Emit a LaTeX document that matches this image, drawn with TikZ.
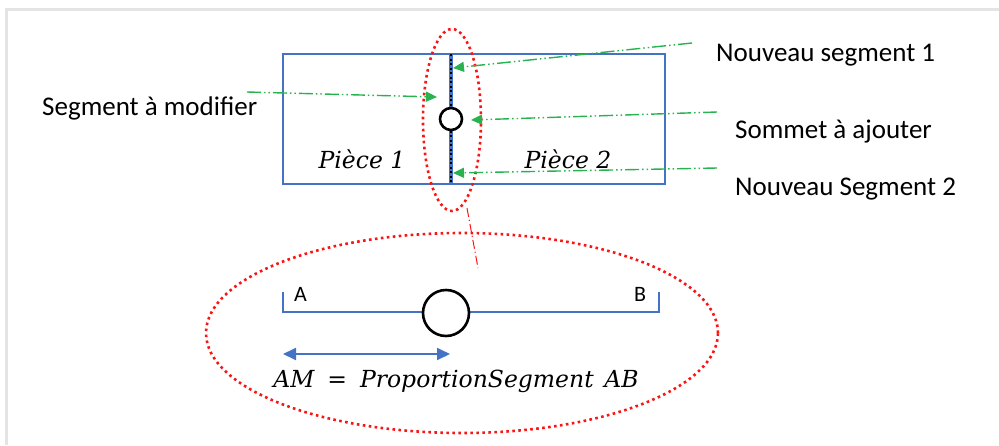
\documentclass[tikz,border=0pt]{standalone}
\usepackage{fontspec}
\setmainfont{Carlito}
\newfontfamily\mathlike{DejaVu Serif}
\usetikzlibrary{arrows.meta}
\definecolor{pblue}{RGB}{68,114,196}
\definecolor{pgreen}{RGB}{40,178,80}
\definecolor{pred}{RGB}{250,20,20}
\definecolor{pframe}{RGB}{228,228,228}
\tikzset{
  lbl/.style={anchor=west,inner sep=0pt,font=\fontsize{27}{32}\selectfont},
  ptlbl/.style={inner sep=0pt,font=\fontsize{22}{26}\selectfont},
  mathlbl/.style={inner sep=0pt,font=\mathlike\itshape\fontsize{23.5}{28}\selectfont},
  garrow/.style={pgreen,line width=1.4pt,dash pattern=on 14pt off 3pt on 1.5pt off 3pt on 1.5pt off 3pt,-{Triangle[length=11pt,width=10pt]}},
  reddots/.style={pred,line width=2.6pt,dash pattern=on 2.6pt off 3.4pt},
  vertex/.style={circle,draw=black,fill=white,inner sep=0pt},
}
\begin{document}
\begin{tikzpicture}[x=1pt,y=-1pt]
\useasboundingbox (0,0) rectangle (999,445);
% frame
\draw[pframe,line width=3pt] (6,445) -- (6,9) -- (999,9);
% main rectangle
\node[draw=pblue,line width=2.8pt,minimum width=382pt,minimum height=130pt,inner sep=0pt] (rect) at (474,119) {};
% divider
\coordinate (dtop) at (451,54);
\coordinate (dbot) at (451,184);
\draw[pblue,line width=4pt] (dtop) -- (dbot);
\draw[black,line width=2pt,dash pattern=on 2pt off 2.5pt] (dtop) -- (dbot);
\node[vertex,line width=2.6pt,minimum size=22pt] (m) at (451,119) {};
% small ellipse
\draw[reddots] (452,120) ellipse [x radius=29pt,y radius=91pt];
% big ellipse
\draw[reddots] (462,333) ellipse [x radius=256pt,y radius=100pt];
% connector between ellipses
\coordinate (c1) at (467,208);
\coordinate (c2) at (478,268);
\draw[pred,line width=1pt,dash pattern=on 9pt off 3pt on 1.2pt off 3pt] (c1) -- (c2);
% labels
\node[lbl] (ns1) at (716,55) {Nouveau segment 1};
\node[lbl] (sam) at (42,108) {Segment à modifier};
\node[lbl] (saa) at (735,132) {Sommet à ajouter};
\node[lbl] (ns2) at (735,189) {Nouveau Segment 2};
\node[mathlbl] (p1) at (362,159) {Pièce 1};
\node[mathlbl] (p2) at (568,159) {Pièce 2};
% green arrows
\coordinate (g1s) at (692,43);
\coordinate (g1e) at (453,68);
\coordinate (g2s) at (247,92);
\coordinate (g2e) at (437,97);
\coordinate (g3s) at (717,112);
\coordinate (g3e) at (471,120);
\coordinate (g4s) at (717,168);
\coordinate (g4e) at (453,173);
\draw[garrow] (g1s) -- (g1e);
\draw[garrow] (g2s) -- (g2e);
\draw[garrow] (g3s) -- (g3e);
\draw[garrow] (g4s) -- (g4e);
% segment AB
\coordinate (Atop) at (283,292);
\coordinate (A) at (283,312);
\coordinate (B) at (659,312);
\coordinate (Btop) at (659,292);
\draw[pblue,line width=1.4pt] (Atop) -- (A) -- (B) -- (Btop);
\node[vertex,line width=2.6pt,minimum size=46pt] (M) at (446,313) {};
\node[ptlbl] (la) at (300.5,294) {A};
\node[ptlbl] (lb) at (640,294) {B};
% double arrow
\coordinate (d1) at (283,354);
\coordinate (d2) at (450,354);
\draw[pblue,line width=1.8pt,{Triangle[length=13pt,width=12pt]}-{Triangle[length=13pt,width=12pt]}] (d1) -- (d2);
\node[mathlbl] (eq) at (456,381) {AM\hspace{0.55em}{\upshape=}\hspace{0.55em}ProportionSegment\hspace{0.45em}AB};
\end{tikzpicture}
\end{document}
